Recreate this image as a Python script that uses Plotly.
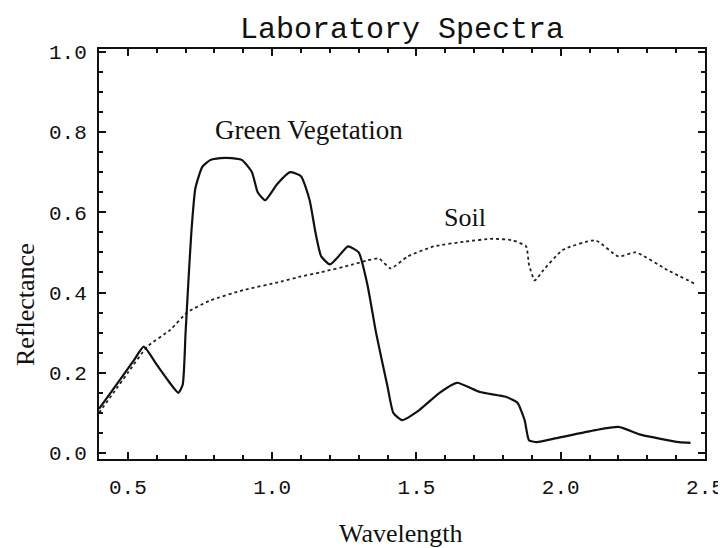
import plotly.graph_objects as go

# Green vegetation spectrum (wavelength in µm, reflectance)
veg_x = [0.40, 0.47, 0.52, 0.555, 0.60, 0.64, 0.675, 0.69, 0.70, 0.71, 0.72, 0.734,
         0.758, 0.785, 0.82, 0.86, 0.896, 0.93, 0.95, 0.976, 1.017, 1.062, 1.10,
         1.13, 1.15, 1.17, 1.20, 1.23, 1.263, 1.30, 1.33, 1.36, 1.40, 1.42, 1.45,
         1.51, 1.58, 1.64, 1.72, 1.81, 1.85, 1.875, 1.89, 1.917, 1.986, 2.12,
         2.20, 2.28, 2.41, 2.45]
veg_y = [0.11, 0.18, 0.23, 0.265, 0.22, 0.18, 0.15, 0.17, 0.30, 0.43, 0.55, 0.66,
         0.713, 0.73, 0.735, 0.735, 0.73, 0.70, 0.65, 0.63, 0.67, 0.70, 0.69,
         0.63, 0.55, 0.49, 0.47, 0.49, 0.515, 0.50, 0.42, 0.30, 0.165, 0.10, 0.082,
         0.107, 0.15, 0.175, 0.152, 0.14, 0.125, 0.082, 0.032, 0.027, 0.037, 0.057,
         0.065, 0.045, 0.027, 0.025]

# Soil spectrum
soil_x = [0.40, 0.45, 0.50, 0.567, 0.647, 0.705, 0.785, 0.90, 1.03, 1.10, 1.166,
          1.28, 1.33, 1.37, 1.41, 1.47, 1.56, 1.67, 1.765, 1.834, 1.88, 1.89,
          1.91, 1.94, 2.007, 2.12, 2.20, 2.26, 2.37, 2.47]
soil_y = [0.10, 0.15, 0.20, 0.265, 0.307, 0.35, 0.38, 0.406, 0.427, 0.44, 0.45,
          0.47, 0.48, 0.485, 0.46, 0.49, 0.515, 0.527, 0.534, 0.53, 0.515, 0.47,
          0.43, 0.456, 0.506, 0.53, 0.49, 0.50, 0.456, 0.42]

x_ticks = [0.5, 1.0, 1.5, 2.0, 2.5]
x_tick_labels = ["0.5", "1.0", "1.5", "2.0", "2.5"]
y_ticks = [0.0, 0.2, 0.4, 0.6, 0.8, 1.0]
y_tick_labels = ["0.0", "0.2", "0.4", "0.6", "0.8", "1.0"]

tick_font = dict(family="Liberation Mono", size=21, color="#111")
serif = "Liberation Serif"

# the page body adds an 8px offset, so the figure is 8px smaller on each axis
FIG_W, FIG_H = 718, 540

fig = go.Figure()
fig.add_trace(go.Scatter(x=soil_x, y=soil_y, mode="lines", name="Soil",
                         line=dict(color="#222", width=1.8, dash="3px,3px",
                                   shape="spline", smoothing=0.5)))
fig.add_trace(go.Scatter(x=veg_x, y=veg_y, mode="lines", name="Green Vegetation",
                         line=dict(color="#111", width=2.2, shape="spline",
                                   smoothing=0.5)))

fig.add_annotation(x=1.128, y=0.805, text="Green Vegetation", showarrow=False,
                   font=dict(family=serif, size=27, color="#111"))
fig.add_annotation(x=1.668, y=0.586, text="Soil", showarrow=False,
                   font=dict(family=serif, size=26, color="#111"))

axis_common = dict(showgrid=False, zeroline=False, showline=True, linecolor="#111",
                   linewidth=2, mirror="ticks", ticks="inside", ticklen=7,
                   tickcolor="#111", tickwidth=1.5, tickfont=tick_font,
                   automargin=False)

fig.update_layout(
    width=FIG_W, height=FIG_H,
    margin=dict(l=91, r=21, t=41, b=89),
    paper_bgcolor="white", plot_bgcolor="white",
    showlegend=False,
    title=dict(text="Laboratory Spectra", x=394 / FIG_W, xanchor="center",
               y=1 - 19 / FIG_H, yref="container", yanchor="middle",
               automargin=False,
               font=dict(family="Liberation Mono", size=30, color="#111")),
    xaxis=dict(range=[0.4, 2.5], tickvals=x_ticks, ticktext=x_tick_labels,
               ticklabelstandoff=8,
               minor=dict(dtick=0.1, ticks="inside", ticklen=4, tickcolor="#111"),
               **axis_common),
    yaxis=dict(range=[-0.015, 1.007], tickvals=y_ticks, ticktext=y_tick_labels,
               ticklabelstandoff=6,
               minor=dict(dtick=0.05, ticks="inside", ticklen=4, tickcolor="#111"),
               **axis_common),
    annotations=list(fig.layout.annotations) + [
        dict(text="Wavelength", xref="paper", yref="paper", x=0.498,
             y=-(533 - 459) / 410, xanchor="center", yanchor="middle",
             showarrow=False, font=dict(family=serif, size=26, color="#111")),
        dict(text="Reflectance", xref="paper", yref="paper",
             x=-(99 - 25) / 606, y=(459 - 305) / 410, xanchor="center",
             yanchor="middle", textangle=-90, showarrow=False,
             font=dict(family=serif, size=26, color="#111")),
    ],
)

fig.write_html("out.html")
